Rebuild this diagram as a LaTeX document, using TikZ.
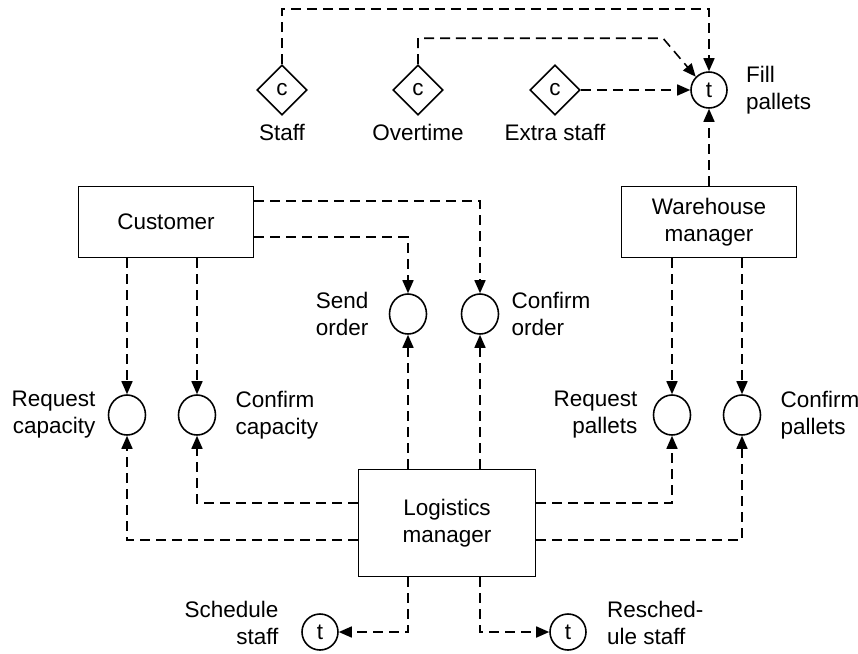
\documentclass[tikz,border=0pt]{standalone}
\usepackage{fontspec}
\setmainfont{Liberation Sans}
\usetikzlibrary{arrows.meta, positioning, shapes.geometric}

\begin{document}
\begin{tikzpicture}[x=0.02cm, y=-0.02cm,
	every node/.style={font=\fontsize{12.8}{15.4}\selectfont},
	actor/.style={draw, line width=1pt, minimum width=3.5cm, minimum height=1.42cm, align=center},
	msg/.style={draw, ellipse, line width=0.9pt, minimum width=0.74cm, minimum height=0.8cm, inner sep=0pt},
	task/.style={draw, circle, line width=0.9pt, minimum size=0.72cm, inner sep=0pt},
	choice/.style={draw, diamond, line width=0.9pt, minimum size=1cm, inner sep=0pt},
	lbl/.style={inner sep=0pt},
	flow/.style={line width=0.9pt, dash pattern=on 2mm off 1.2mm, -{Triangle[length=2.6mm,width=2.2mm]}}]
	\useasboundingbox (0,0) rectangle (858,653);
	% choices and tasks
	\node[choice] (staff) at (282,90) {c};
	\node[choice] (over) at (418,90) {c};
	\node[choice] (extra) at (555,90) {c};
	\node[task] (fill) at (709,90) {t};
	\node[task] (ssch) at (320,632) {t};
	\node[task] (resch) at (568,632) {t};
	% actors
	\node[actor] (cust) at (166,222) {Customer};
	\node[actor] (wm) at (709,222) {Warehouse\\manager};
	\node[actor, minimum width=3.54cm, minimum height=2.14cm] (lm) at (447,523) {Logistics\\manager};
	% messages
	\node[msg] (sord) at (408,314) {};
	\node[msg] (cord) at (480,314) {};
	\node[msg] (rcap) at (127,415) {};
	\node[msg] (ccap) at (197,415) {};
	\node[msg] (rpal) at (672,415) {};
	\node[msg] (cpal) at (742,415) {};
	% labels
	\node[lbl, below=0.17cm of staff] (staffl) {Staff};
	\node[lbl, below=0.17cm of over] (overl) {Overtime};
	\node[lbl, below=0.17cm of extra] (extral) {Extra staff};
	\node[lbl, right=0.36cm of fill, align=left] (filll) {Fill\\pallets};
	\node[lbl, left=0.4cm of sord, align=right] (sordl) {Send\\order};
	\node[lbl, right=0.24cm of cord, align=left] (cordl) {Confirm\\order};
	\node[lbl, left=0.24cm of rcap, align=right] (rcapl) {Request\\capacity};
	\node[lbl, right=0.38cm of ccap, align=left] (ccapl) {Confirm\\capacity};
	\node[lbl, left=0.3cm of rpal, align=right] (rpall) {Request\\pallets};
	\node[lbl, right=0.38cm of cpal, align=left] (cpall) {Confirm\\pallets};
	\node[lbl, left=0.45cm of ssch, yshift=0.18cm, align=right] (sschl) {Schedule\\staff};
	\node[lbl, right=0.4cm of resch, yshift=0.18cm, align=left] (reschl) {Resched-\\ule staff};
	% customer flows
	\draw[flow] (rcap.north |- cust.south) -- (rcap.north);
	\draw[flow] (ccap.north |- cust.south) -- (ccap.north);
	\draw[flow] ([yshift=0.42cm]cust.east) -| (cord.north);
	\draw[flow] ([yshift=-0.3cm]cust.east) -| (sord.north);
	% warehouse flows
	\draw[flow] (rpal.north |- wm.south) -- (rpal.north);
	\draw[flow] (cpal.north |- wm.south) -- (cpal.north);
	\draw[flow] (wm.north) -- (fill.south);
	% logistics flows
	\draw[flow] (sord.south |- lm.north) -- (sord.south);
	\draw[flow] (cord.south |- lm.north) -- (cord.south);
	\draw[flow] ([yshift=0.4cm]lm.west) -| (ccap.south);
	\draw[flow] ([yshift=-0.34cm]lm.west) -| (rcap.south);
	\draw[flow] ([yshift=0.4cm]lm.east) -| (rpal.south);
	\draw[flow] ([yshift=-0.34cm]lm.east) -| (cpal.south);
	\draw[flow] (sord.south |- lm.south) |- (ssch.east);
	\draw[flow] (cord.south |- lm.south) |- (resch.west);
	% choice flows
	\draw[flow] (staff.north) |- ([yshift=1.24cm]fill.north) -- (fill.north);
	\coordinate (bend) at ([xshift=-0.92cm,yshift=0.66cm]fill.north);
	\draw[flow] (over.north) |- (bend) -- (fill.north west);
	\draw[flow] (extra.east) -- (fill.west);
\end{tikzpicture}
\end{document}
